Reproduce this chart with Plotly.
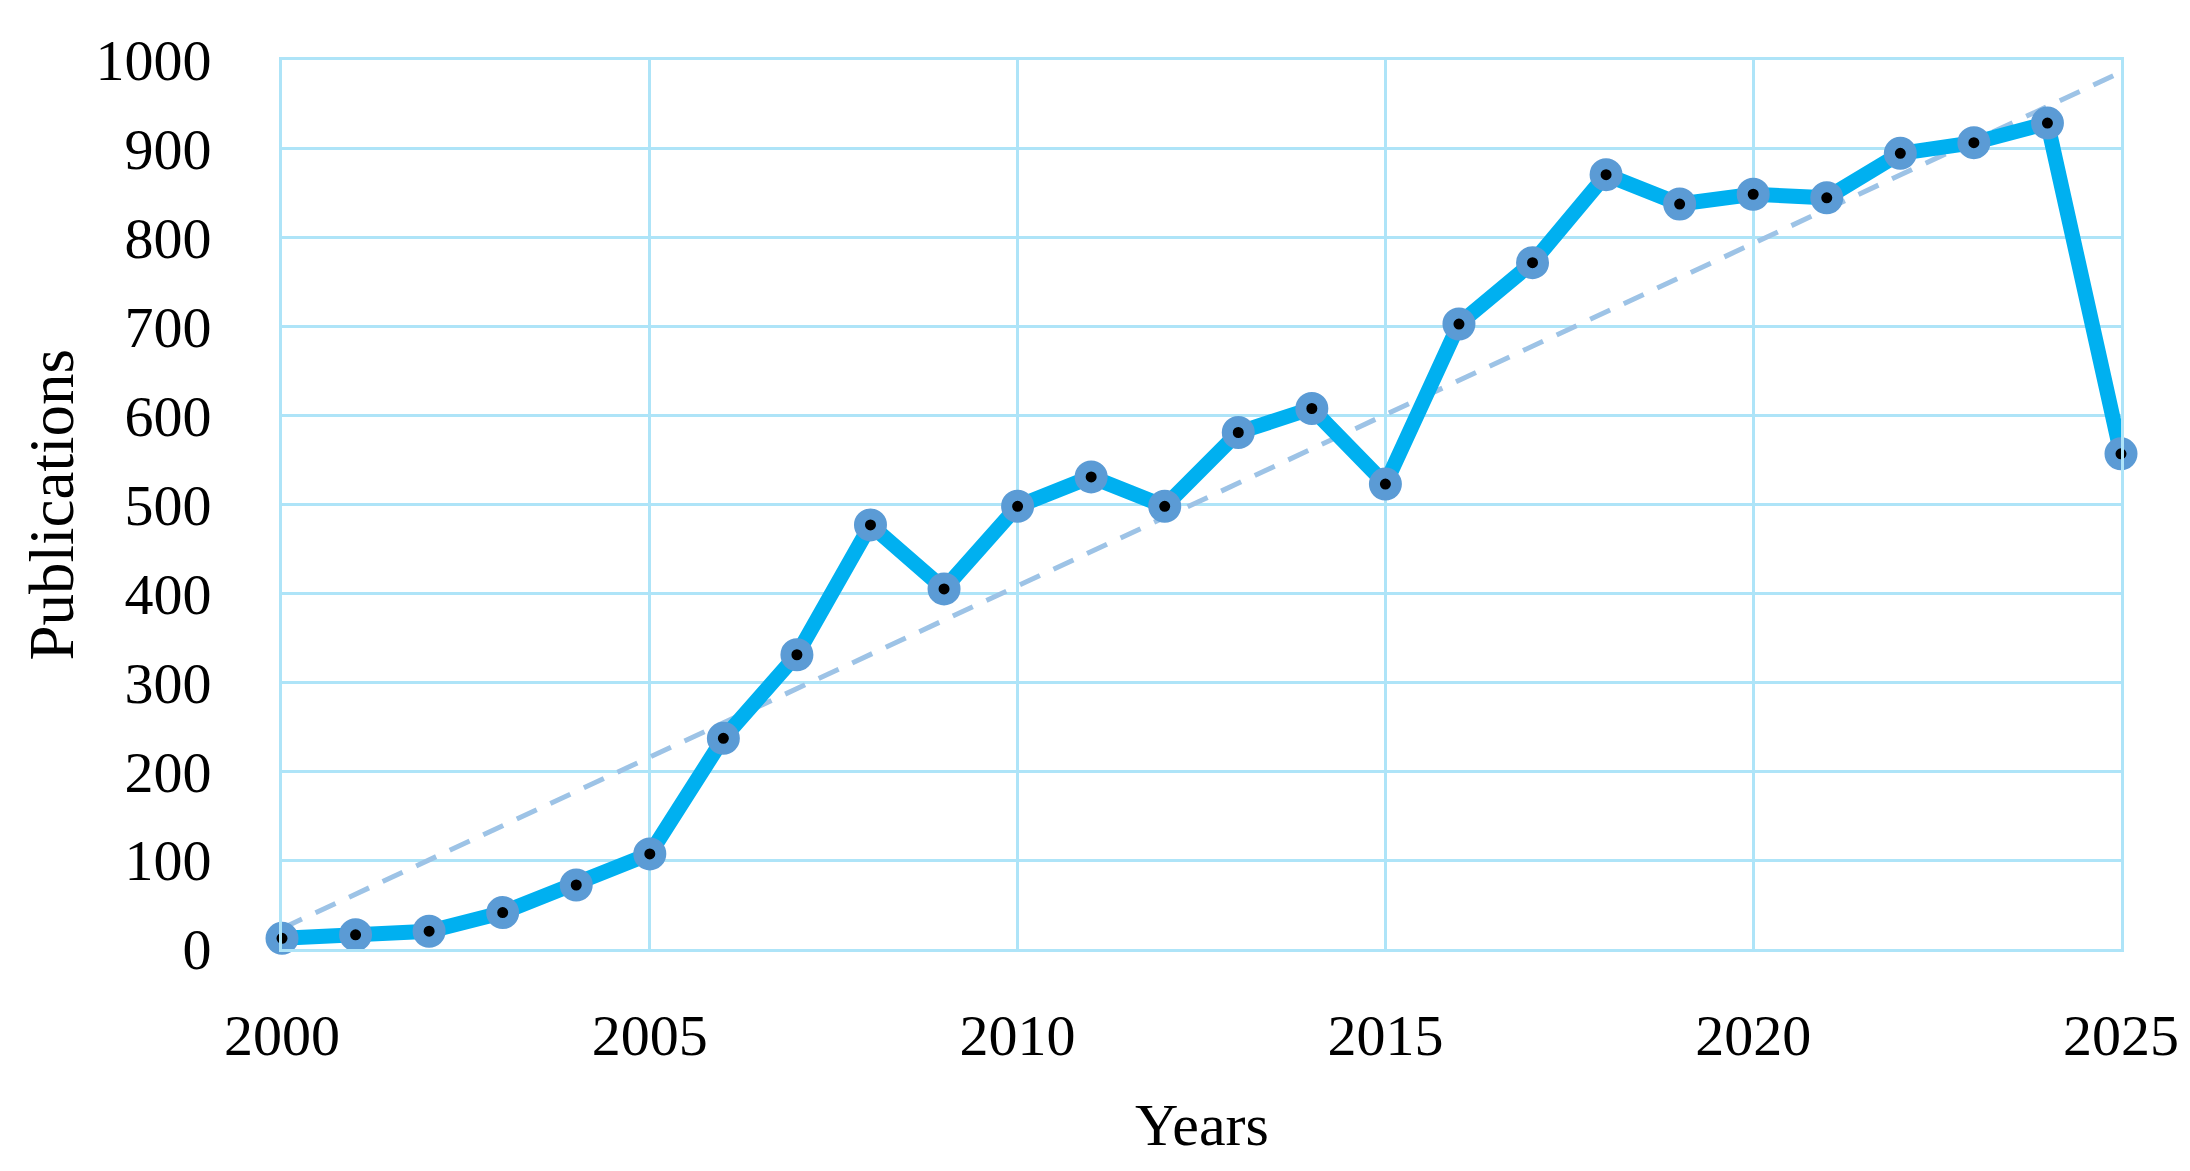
import numpy as np
import plotly.graph_objects as go

years = list(range(2000, 2026))
publications = [12, 16, 20, 41, 72, 107, 237, 331, 477, 405, 498, 531, 498, 581, 608,
                523, 703, 772, 871, 838, 849, 845, 895, 907, 929, 557]
x_ticks = [2000, 2005, 2010, 2015, 2020, 2025]
y_ticks = list(range(0, 1001, 100))

# linear trendline fitted to the data
slope, intercept = np.polyfit(years, publications, 1)
trend = [slope * y + intercept for y in years]

FONT = "Liberation Serif"
GRID = "#AEE4F8"

fig = go.Figure()
fig.add_trace(go.Scatter(
    x=[years[0], years[-1]], y=[trend[0], trend[-1]], mode="lines",
    line=dict(color="#9DC3E6", width=5, dash="22px,15px"),
    hoverinfo="skip", showlegend=False, cliponaxis=False))
fig.add_trace(go.Scatter(
    x=years, y=publications, mode="lines+markers",
    line=dict(color="#00B0F0", width=15),
    marker=dict(size=22, color="black", line=dict(color="#5B9BD5", width=11)),
    showlegend=False, cliponaxis=False))

fig.update_layout(
    width=2190, height=1171,
    margin=dict(l=274, r=77, t=52, b=230),
    paper_bgcolor="white", plot_bgcolor="white",
    font=dict(family=FONT, size=58, color="black"),
    xaxis=dict(range=[2000, 2025], tickvals=x_ticks, ticktext=[str(t) for t in x_ticks],
               showgrid=True, gridcolor=GRID, gridwidth=3, zeroline=False,
               showline=True, linecolor=GRID, linewidth=3, mirror=True,
               ticks="", ticklabelstandoff=33, automargin=False),
    yaxis=dict(range=[0, 1000], tickvals=y_ticks, ticktext=[str(t) for t in y_ticks],
               showgrid=True, gridcolor=GRID, gridwidth=3, zeroline=False,
               showline=True, linecolor=GRID, linewidth=3, mirror=True,
               ticks="", ticklabelstandoff=56, automargin=False),
    annotations=[
        dict(text="Years", xref="paper", yref="paper", x=0.5, y=-0.198,
             showarrow=False, font=dict(family=FONT, size=60), yanchor="middle"),
        dict(text="Publications", xref="paper", yref="paper", x=-0.1256, y=0.5,
             showarrow=False, textangle=-90, font=dict(family=FONT, size=63),
             xanchor="center", yanchor="middle"),
    ],
)

fig.write_html("out.html")
